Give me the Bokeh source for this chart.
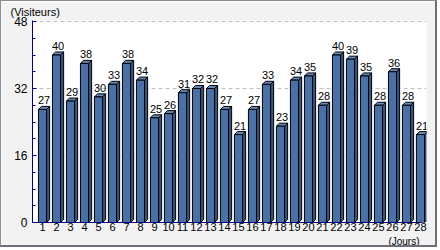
from bokeh.plotting import figure
from bokeh.models import FixedTicker, Range1d, ColumnDataSource, Title
from bokeh.core.properties import value
from bokeh.embed import file_html
from bokeh.resources import INLINE

days = list(range(1, 29))
visitors = [27, 40, 29, 38, 30, 33, 38, 34, 25, 26, 31, 32, 32, 27, 21, 27,
            33, 23, 34, 35, 28, 40, 39, 35, 28, 36, 28, 21]
y_ticks = [0, 16, 32, 48]
y_minor = [4, 8, 12, 20, 24, 28, 36, 40, 44]
y_label = "(Visiteurs)"
x_label = "(Jours)"

FONT = "Liberation Sans"
HW = 0.29   # half face width (x units)
DX = 0.22   # depth x (x units)
DY = 0.72   # depth y (value units)

p = figure(width=437, height=247, output_backend="svg", toolbar_location=None,
           x_range=Range1d(0.2857, 28.43), y_range=Range1d(0, 48.24),
           min_border_left=31, min_border_top=19, min_border_right=12,
           min_border_bottom=26,
           background_fill_color="white", border_fill_color="#f2f2f2",
           outline_line_color=None,
           styles={"border-left": "1px solid #8a8a92", "border-top": "1px solid #8a8a92",
                   "border-right": "2px solid #6e6e78", "border-bottom": "2px solid #6e6e78"})

p.title = Title(text=y_label, align="left", offset=-22, standoff=5,
                text_font=FONT, text_font_size="11px", text_font_style="normal",
                text_color="black")
p.add_layout(Title(text=x_label, align="right", offset=7, standoff=0,
                   text_font=FONT, text_font_size="10px", text_font_style="normal",
                   text_color="black"), "below")

front_xs, front_ys, top_xs, top_ys, side_xs, side_ys = [], [], [], [], [], []
for d, v in zip(days, visitors):
    l, r = d - HW, d + HW
    front_xs.append([l, r, r, l]); front_ys.append([0, 0, v, v])
    top_xs.append([l, r, r + DX, l + DX]); top_ys.append([v, v, v + DY, v + DY])
    side_xs.append([r, r + DX, r + DX, r]); side_ys.append([0, DY, v + DY, v])

p.patches(side_xs, side_ys, fill_color="#35578a", line_color="black", line_width=1)
p.patches(top_xs, top_ys, fill_color="#6589bd", line_color="black", line_width=1)
p.patches(front_xs, front_ys, fill_color="#4a70a6", line_color="black", line_width=1)

src = ColumnDataSource(dict(x=[d + DX / 2 for d in days],
                            y=[v + DY for v in visitors],
                            t=[str(v) for v in visitors]))
p.text(x="x", y="y", text="t", source=src, text_align="center",
       text_baseline="bottom", y_offset=-2, text_font=value(FONT),
       text_font_size="11px", text_color="black")

p.yaxis.ticker = FixedTicker(ticks=y_ticks, minor_ticks=y_minor)
p.yaxis.axis_line_color = "#000080"
p.yaxis.major_tick_line_color = "#000080"
p.yaxis.minor_tick_line_color = "#000080"
p.yaxis.major_tick_in = 4
p.yaxis.major_tick_out = 0
p.yaxis.minor_tick_in = 3
p.yaxis.minor_tick_out = 0
p.yaxis.major_label_standoff = 5
p.yaxis.major_label_text_font = FONT
p.yaxis.major_label_text_font_size = "12px"
p.yaxis.major_label_text_color = "black"

p.xaxis.ticker = FixedTicker(ticks=days)
p.xaxis.bounds = (0.2857, 28.1)
p.xaxis.axis_line_color = "#000080"
p.xaxis.major_tick_line_color = None
p.xaxis.minor_tick_line_color = None
p.xaxis.major_tick_in = 0
p.xaxis.major_tick_out = 0
p.xaxis.major_label_standoff = 0
p.xaxis.major_label_text_font = FONT
p.xaxis.major_label_text_font_size = "11px"
p.xaxis.major_label_text_color = "black"

p.xgrid.grid_line_color = None
p.ygrid.ticker = FixedTicker(ticks=[16, 32, 48])
p.ygrid.grid_line_color = "#c0c0c0"
p.ygrid.grid_line_dash = "4 3"

open("out.html", "w").write(file_html(p, INLINE))
